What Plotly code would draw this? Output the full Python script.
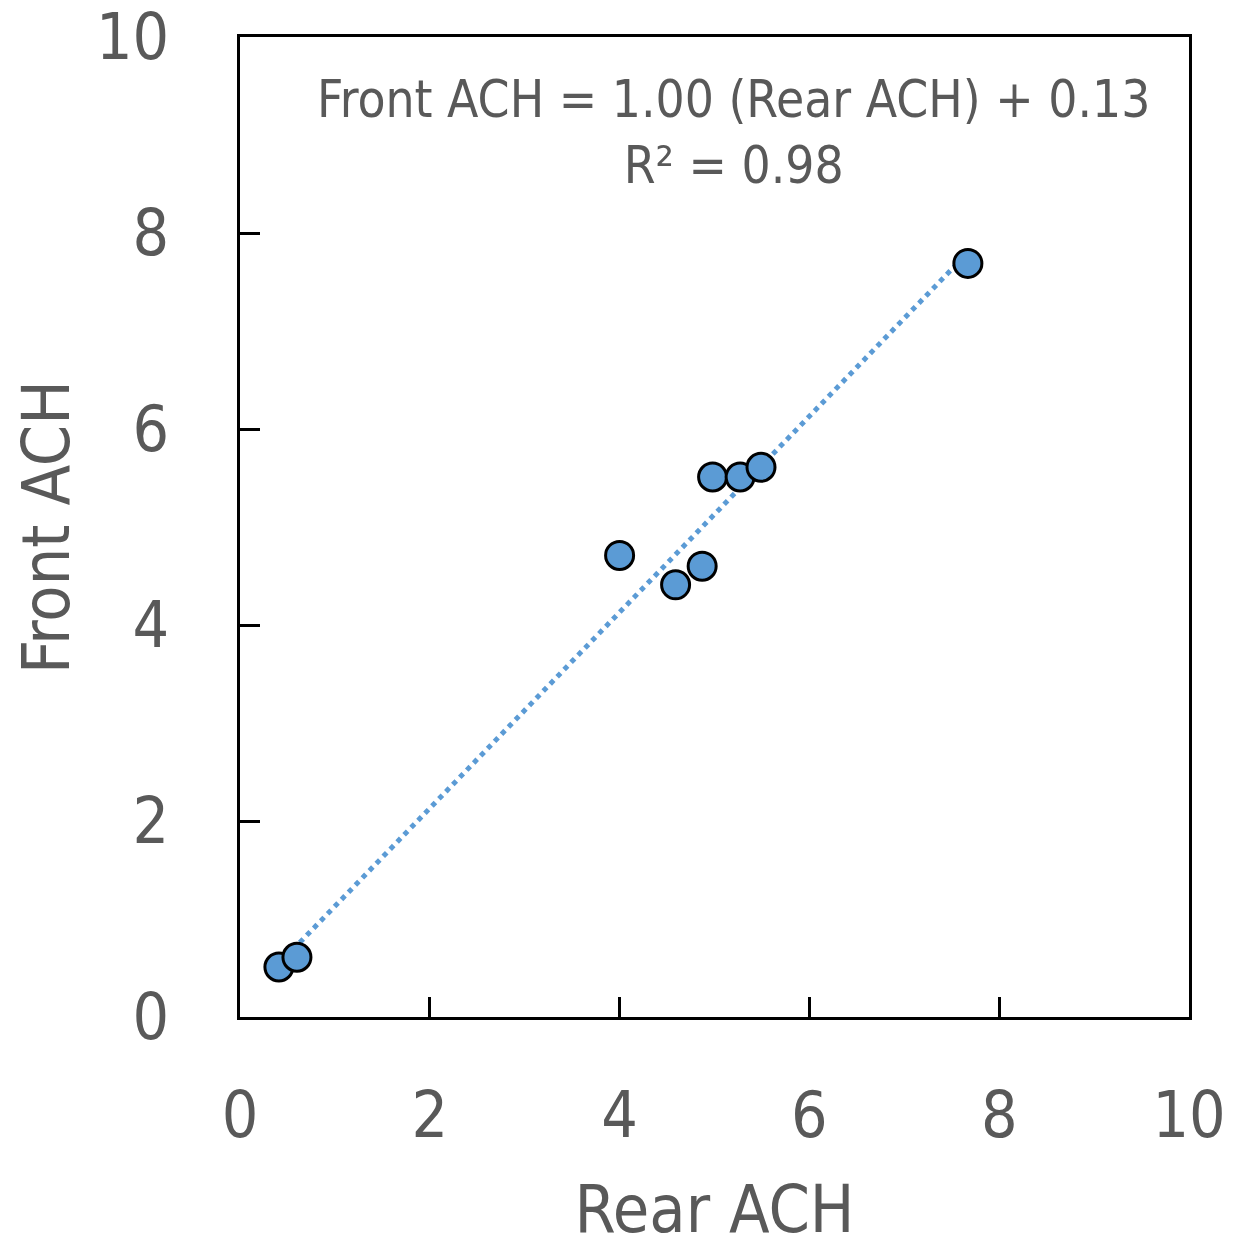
import plotly.graph_objects as go

rear_ach = [0.41, 0.60, 4.00, 4.59, 4.87, 4.98, 5.27, 5.49, 7.67]
front_ach = [0.51, 0.61, 4.71, 4.41, 4.60, 5.51, 5.51, 5.61, 7.69]
fit_slope = 1.00
fit_intercept = 0.13
tick_vals = [0, 2, 4, 6, 8, 10]
eq_text = "Front ACH = 1.00 (Rear ACH) + 0.13<br>R² = 0.98"

FONT = "Liberation Sans Narrow, DejaVu Sans Condensed, Open Sans, sans-serif"
GRAY = "#595959"
BLUE = "#5B9BD5"

x0, x1 = min(rear_ach), max(rear_ach)
fit_x = [x0, x1]
fit_y = [fit_slope * v + fit_intercept for v in fit_x]

fig = go.Figure()
fig.add_trace(go.Scatter(x=fit_x, y=fit_y, mode="lines",
                         line=dict(color=BLUE, width=5, dash="dot"),
                         showlegend=False, hoverinfo="skip"))
fig.add_trace(go.Scatter(x=rear_ach, y=front_ach, mode="markers",
                         marker=dict(size=28, color=BLUE,
                                     line=dict(color="black", width=3)),
                         showlegend=False))

axis_common = dict(range=[0, 10], tickvals=tick_vals, showgrid=False,
                   zeroline=False, showline=True, linecolor="black",
                   linewidth=3, mirror=True, ticks="inside", ticklen=20,
                   tickwidth=3, tickcolor="black", automargin=False,
                   ticklabeloverflow="allow",
                   tickfont=dict(family=FONT, size=64, color=GRAY))

fig.update_xaxes(**axis_common, ticklabelstandoff=40,
                 title=dict(text="Rear ACH", standoff=36,
                            font=dict(family=FONT, size=66, color=GRAY)))
fig.update_yaxes(**axis_common, ticklabelstandoff=55,
                 title=dict(text="Front ACH", standoff=45,
                            font=dict(family=FONT, size=66, color=GRAY)))

fig.add_annotation(x=0.52, y=0.968, xref="paper", yref="paper",
                   text=eq_text, showarrow=False, align="center",
                   font=dict(family=FONT, size=51, color=GRAY))

fig.update_layout(width=1242, height=1247,
                  margin=dict(l=232, r=61, t=29, b=238),
                  plot_bgcolor="white", paper_bgcolor="white")

fig.write_html("out.html")
